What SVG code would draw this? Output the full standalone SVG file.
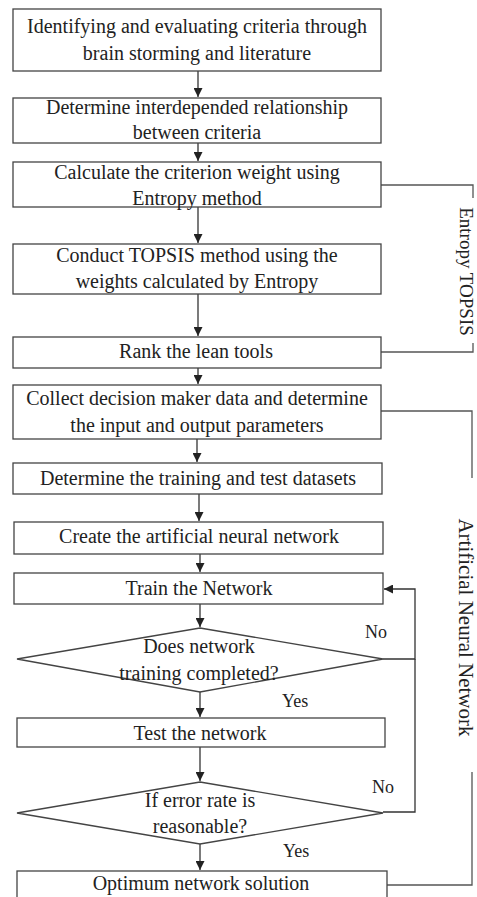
<svg xmlns="http://www.w3.org/2000/svg" width="477" height="897" viewBox="0 0 477 897">
<defs>
<marker id="ah" markerUnits="userSpaceOnUse" viewBox="0 0 10 10" refX="10" refY="5" markerWidth="10" markerHeight="9" orient="auto">
<path d="M0,0 L10,5 L0,10 z" fill="#222"/>
</marker>
<style>
.box{fill:#fff;stroke:#444;stroke-width:1.3}
.t{font-family:"Liberation Serif","Times New Roman",serif;font-size:20px;fill:#222;text-anchor:middle}
.lb{font-family:"Liberation Serif","Times New Roman",serif;font-size:18px;fill:#222}
.side{font-family:"Liberation Serif","Times New Roman",serif;fill:#222;text-anchor:middle}
.c{fill:none;stroke:#333;stroke-width:1.3}
.br{fill:none;stroke:#555;stroke-width:1.3}
</style>
</defs>
<rect width="477" height="897" fill="#fff"/>
<g id="connectors">
<path class="c" d="M198,71 V97" marker-end="url(#ah)"/>
<path class="c" d="M198,143 V161" marker-end="url(#ah)"/>
<path class="c" d="M198,207 V243" marker-end="url(#ah)"/>
<path class="c" d="M198,294 V336" marker-end="url(#ah)"/>
<path class="c" d="M198,368 V384" marker-end="url(#ah)"/>
<path class="c" d="M197,439 V462" marker-end="url(#ah)"/>
<path class="c" d="M199,494 V521" marker-end="url(#ah)"/>
<path class="c" d="M200,554 V572" marker-end="url(#ah)"/>
<path class="c" d="M200,604 V627" marker-end="url(#ah)"/>
<path class="c" d="M200,692 V717" marker-end="url(#ah)"/>
<path class="c" d="M200,747 V781" marker-end="url(#ah)"/>
<path class="c" d="M200,844 V870" marker-end="url(#ah)"/>
<path class="c" d="M383,659 H415 V589 H384" marker-end="url(#ah)"/>
<path class="c" d="M383,812 H415 V659"/>
<path class="br" d="M381,185 H473 V198"/>
<path class="br" d="M473,343 V352 H381"/>
<path class="br" d="M381,411 H472 V478"/>
<path class="br" d="M472,772 V885 H387"/>
</g>
<g id="n1"><rect class="box" x="13" y="9" width="368" height="62"/><text class="t" x="197" y="33">Identifying and evaluating criteria through</text><text class="t" x="197" y="60">brain storming and literature</text></g>
<g id="n2"><rect class="box" x="13" y="98" width="368" height="45"/><text class="t" x="197" y="114">Determine interdepended relationship</text><text class="t" x="197" y="139">between criteria</text></g>
<g id="n3"><rect class="box" x="13" y="162" width="368" height="45"/><text class="t" x="197" y="179">Calculate the criterion weight using</text><text class="t" x="197" y="205">Entropy method</text></g>
<g id="n4"><rect class="box" x="13" y="244" width="368" height="50"/><text class="t" x="197" y="262">Conduct TOPSIS method using the</text><text class="t" x="197" y="288">weights calculated by Entropy</text></g>
<g id="n5"><rect class="box" x="13" y="337" width="368" height="31"/><text class="t" x="196" y="358">Rank the lean tools</text></g>
<g id="n6"><rect class="box" x="13" y="385" width="368" height="54"/><text class="t" x="197" y="405">Collect decision maker data and determine</text><text class="t" x="197" y="432">the input and output parameters</text></g>
<g id="n7"><rect class="box" x="13" y="463" width="369" height="31"/><text class="t" x="198" y="485">Determine the training and test datasets</text></g>
<g id="n8"><rect class="box" x="14" y="522" width="369" height="32"/><text class="t" x="199" y="543">Create the artificial neural network</text></g>
<g id="n9"><rect class="box" x="14" y="573" width="369" height="31"/><text class="t" x="199" y="595">Train the Network</text></g>
<g id="d1"><path class="box" d="M200,628 L383,659 L200,692 L17,659 z"/><text class="t" x="199" y="653">Does network</text><text class="t" x="199" y="680">training completed?</text></g>
<g id="n10"><rect class="box" x="17" y="718" width="368" height="29"/><text class="t" x="200" y="740">Test the network</text></g>
<g id="d2"><path class="box" d="M200,782 L383,813 L200,844 L17,813 z"/><text class="t" x="200" y="807">If error rate is</text><text class="t" x="200" y="833">reasonable?</text></g>
<g id="n11"><rect class="box" x="17" y="871" width="370" height="40"/><text class="t" x="201" y="890">Optimum network solution</text></g>
<g id="labels">
<text class="lb" x="365" y="638">No</text>
<text class="lb" x="282" y="707">Yes</text>
<text class="lb" x="372" y="793">No</text>
<text class="lb" x="283" y="857">Yes</text>
</g>
<g id="side-labels">
<text class="side" font-size="19" transform="translate(460,271.5) rotate(90)">Entropy TOPSIS</text>
<text class="side" font-size="21" transform="translate(459,627.5) rotate(90)">Artificial Neural Network</text>
</g>
</svg>
